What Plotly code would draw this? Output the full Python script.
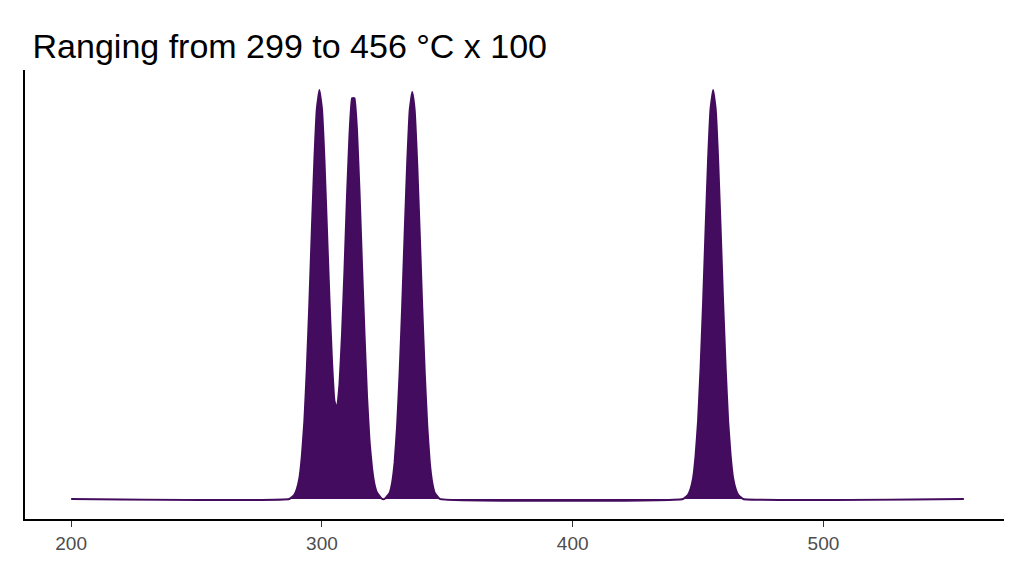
import plotly.graph_objects as go

# density curve (peak height normalised to 1)
temps = [200, 287, 289, 290, 291, 292, 293, 294, 295, 296, 297, 298, 299, 300, 301, 302, 303, 304,
         305, 306, 307, 308, 309, 310, 311, 312, 313, 314, 315, 316, 317, 318, 319, 320, 321, 322,
         324, 325, 327, 328, 329, 330, 331, 332, 333, 334, 335, 336, 337, 338, 339, 340, 341, 342,
         343, 344, 345, 347, 444, 446, 447, 448, 449, 450, 451, 452, 453, 454, 455, 456, 457, 458,
         459, 460, 461, 462, 463, 464, 465, 466, 468, 556]
density = [0, 0, 0.01, 0.024, 0.05, 0.105, 0.19, 0.32, 0.48, 0.66, 0.83, 0.955, 1.0, 0.955, 0.83,
           0.66, 0.49, 0.34, 0.24, 0.22, 0.28, 0.40, 0.56, 0.74, 0.89, 0.98, 0.98, 0.90, 0.75, 0.57,
           0.40, 0.25, 0.14, 0.075, 0.035, 0.015, 0, 0, 0.015, 0.04, 0.09, 0.18, 0.31, 0.47, 0.65,
           0.82, 0.95, 0.995, 0.95, 0.82, 0.65, 0.47, 0.31, 0.18, 0.09, 0.04, 0.015, 0,
           0, 0.01, 0.024, 0.05, 0.105, 0.19, 0.32, 0.48, 0.66, 0.83, 0.955, 1.0, 0.955, 0.83,
           0.66, 0.48, 0.32, 0.19, 0.105, 0.05, 0.024, 0.01, 0, 0]
tick_vals = [200, 300, 400, 500]

fig = go.Figure()
fig.add_trace(go.Scatter(
    x=temps, y=density, mode='lines', fill='tozeroy',
    fillcolor='#440c5e', line=dict(color='#440c5e', width=2, shape='spline', smoothing=0.3),
    hoverinfo='skip'
))

fig.update_layout(
    width=1024, height=576,
    title=dict(text='Ranging from 299 to 456 °C x 100', x=0.024, xanchor='left', y=0.955,
               font=dict(family='Liberation Sans, Arial', size=34, color='black')),
    paper_bgcolor='white', plot_bgcolor='white',
    margin=dict(l=17, r=28, t=62, b=65),
    showlegend=False,
    font=dict(family='Liberation Sans, Arial'),
)
fig.update_xaxes(range=[181.6, 572], tickvals=tick_vals, showgrid=False, zeroline=False,
                 showline=True, linecolor='black', linewidth=2, ticks='outside', ticklen=6,
                 tickcolor='#333333', tickfont=dict(size=19, color='#4d4d4d'))
fig.update_yaxes(range=[-0.049, 1.049], showticklabels=False, showgrid=False, zeroline=False,
                 showline=True, linecolor='black', linewidth=2, ticks='')

fig.write_html("out.html")
